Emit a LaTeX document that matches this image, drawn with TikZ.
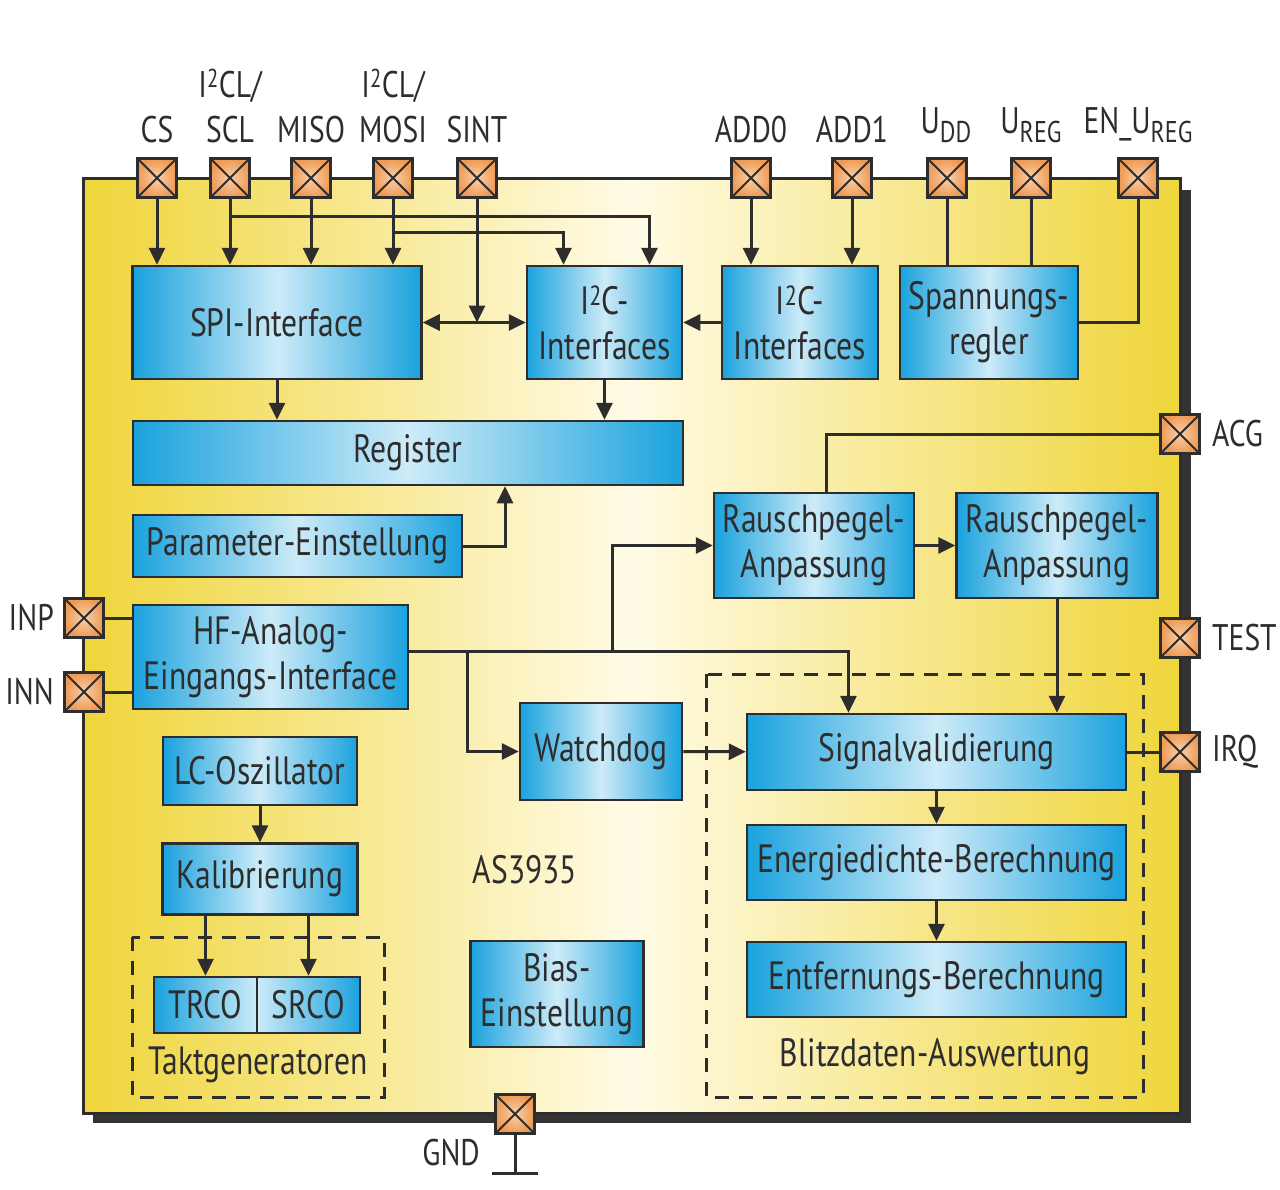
\documentclass[tikz,border=0pt]{standalone}
\usepackage{fontspec}
\setmainfont[FakeStretch=0.8]{PT Sans}
\usetikzlibrary{arrows.meta}
\definecolor{lineC}{HTML}{2D2D2D}
\definecolor{chipY}{HTML}{EFD53A}
\definecolor{chipL}{HTML}{FFFBE6}
\definecolor{boxB}{HTML}{1AA2DD}
\definecolor{boxL}{HTML}{CDEBF8}
\definecolor{padD}{HTML}{EE9A55}
\definecolor{padL}{HTML}{F9D0AA}
\definecolor{shadowC}{HTML}{333333}
\newcommand{\blkfont}{\fontsize{39.5}{45}\selectfont}
\newcommand{\pinfont}{\fontsize{37}{40}\selectfont}
\newcommand{\pinsub}[1]{\raisebox{-9pt}{\fontsize{30}{32}\selectfont #1}}

\tikzset{
  blk/.style={draw=lineC, line width=2.5pt, left color=boxB, right color=boxB, middle color=boxL,
    align=center, inner sep=0pt, text=lineC, font=\blkfont},
  sz/.style 2 args={minimum width=#1pt, minimum height=#2pt},
  pad/.style={draw=lineC, line width=2.5pt, inner color=padL, outer color=padD, minimum size=39pt, inner sep=0pt,
    path picture={\draw[lineC, line width=2pt] (path picture bounding box.north west) -- (path picture bounding box.south east)
      (path picture bounding box.north east) -- (path picture bounding box.south west);}},
  pinlbl/.style={text=lineC, font=\pinfont, inner sep=0pt},
  wire/.style={draw=lineC, line width=3pt},
  arr/.style={wire, -{Triangle[length=17pt, width=16pt]}},
  arrr/.style={wire, {Triangle[length=17pt, width=16pt]}-{Triangle[length=17pt, width=16pt]}},
  grp/.style={draw=lineC, line width=3pt, dash pattern=on 14pt off 10pt},
}

\begin{document}
\begin{tikzpicture}[x=1pt, y=-1pt]
		%%%%% START %%%%%
		\useasboundingbox (0,0) rectangle (1280,1189);
		
		\fill[shadowC] (93,190) rectangle (1191,1123);
		\draw[lineC, line width=3pt, left color=chipY, right color=chipY, middle color=chipL] (83,178) rectangle (1180,1113);
		
		\draw[grp] (132,937) rectangle (384,1097);
		\draw[grp] (706,674) rectangle (1143,1097);
		
		%%%%% BLOCKS %%%%%
		\node[blk, sz={289}{113}] (spi) at (277,322.5) {SPI-Interface};
		\node[blk, sz={155}{113}] (ica) at (604.5,322.5) {I\textsuperscript{2}C-\\Interfaces};
		\node[blk, sz={156}{113}] (icb) at (800,322.5) {I\textsuperscript{2}C-\\Interfaces};
		\node[blk, sz={178}{113}] (sreg) at (989,322.5) {Spannungs-\\regler};
		\node[blk, sz={550}{64}] (regi) at (408,453) {Register};
		\node[blk, sz={329}{62}] (par) at (297.5,546) {Parameter-Einstellung};
		\node[blk, sz={200}{105}] (rp1) at (814,545.5) {Rauschpegel-\\Anpassung};
		\node[blk, sz={201}{105}] (rp2) at (1057,545.5) {Rauschpegel-\\Anpassung};
		\node[blk, sz={275}{104}] (hf) at (270.5,657) {HF-Analog-\\Eingangs-Interface};
		\node[blk, sz={162}{97}] (wd) at (601,751.5) {Watchdog};
		\node[blk, sz={379}{76}] (sv) at (936.5,752) {Signalvalidierung};
		\node[blk, sz={194}{68}] (lc) at (260,771) {LC-Oszillator};
		\node[blk, sz={195}{71}] (kal) at (260,879) {Kalibrierung};
		\node[blk, sz={103}{56}, left color=boxB, right color=boxL] (trco) at (205.5,1005) {TRCO};
		\node[blk, sz={103}{56}, left color=boxL, right color=boxB] (srco) at (308.5,1005) {SRCO};
		\node[blk, sz={379}{75}] (en) at (936.5,862.5) {Energiedichte-Berechnung};
		\node[blk, sz={379}{75}] (ent) at (936.5,979.5) {Entfernungs-Berechnung};
		\node[blk, sz={173}{106}] (bias) at (557,994) {Bias-\\Einstellung};
		
		\node[pinlbl, font=\blkfont] (chipname) at (525,870) {AS3935};
		\node[pinlbl, font=\blkfont] (ltakt) at (258,1065) {Taktgeneratoren};
		\node[pinlbl, font=\blkfont] (lblitz) at (935,1057) {Blitzdaten-Auswertung};
		
		%%%%% PADS %%%%%
		\node[pad] (pcs) at (157,178) {};
		\node[pad] (pscl) at (230,178) {};
		\node[pad] (pmiso) at (311,178) {};
		\node[pad] (pmosi) at (393,178) {};
		\node[pad] (psint) at (477,178) {};
		\node[pad] (padd0) at (751,178) {};
		\node[pad] (padd1) at (852,178) {};
		\node[pad] (pudd) at (947,178) {};
		\node[pad] (pureg) at (1031,178) {};
		\node[pad] (pen) at (1138,178) {};
		\node[pad] (pacg) at (1180,434) {};
		\node[pad] (ptest) at (1180,638) {};
		\node[pad] (pirq) at (1180,752) {};
		\node[pad] (pinp) at (84,618) {};
		\node[pad] (pinn) at (84,692) {};
		\node[pad] (pgnd) at (515,1114) {};
		
		\node[pinlbl, anchor=base] (lcs) at (157,142) {CS};
		\node[pinlbl, anchor=base] (lsclA) at (230,97) {I\textsuperscript{2}CL/};
		\node[pinlbl, anchor=base] (lscl) at (230,142) {SCL};
		\node[pinlbl, anchor=base] (lmiso) at (311,142) {MISO};
		\node[pinlbl, anchor=base] (lmosiA) at (393,97) {I\textsuperscript{2}CL/};
		\node[pinlbl, anchor=base] (lmosi) at (393,142) {MOSI};
		\node[pinlbl, anchor=base] (lsint) at (477,142) {SINT};
		\node[pinlbl, anchor=base] (ladd0) at (751,142) {ADD0};
		\node[pinlbl, anchor=base] (ladd1) at (852,142) {ADD1};
		\node[pinlbl, anchor=base] (ludd) at (946,133) {U\pinsub{DD}};
		\node[pinlbl, anchor=base] (lureg) at (1031,133) {U\pinsub{REG}};
		\node[pinlbl, anchor=base] (len) at (1138,133) {EN\_U\pinsub{REG}};
		\node[pinlbl, anchor=west] (lacg) at (1212,434) {ACG};
		\node[pinlbl, anchor=west] (ltest) at (1212,638) {TEST};
		\node[pinlbl, anchor=west] (lirq) at (1212,752) {IRQ};
		\node[pinlbl, anchor=east] (linp) at (54,618) {INP};
		\node[pinlbl, anchor=east] (linn) at (54,692) {INN};
		\node[pinlbl, anchor=east] (lgnd) at (480,1153) {GND};
		
		%%%%% WIRES %%%%%
		\coordinate (jscl) at (230,216);
		\coordinate (jmosi) at (393,232);
		\coordinate (hfo) at ([yshift=6pt]hf.east);
		\coordinate (jrp) at (612,651);
		\coordinate (jwd) at (467,651);
		\coordinate (gnd) at (515,1173);
		
		\draw[arr] (pcs) -- (pcs |- spi.north);
		\draw[arr] (pscl) -- (pscl |- spi.north);
		\draw[arr] (pmiso) -- (pmiso |- spi.north);
		\draw[arr] (pmosi) -- (pmosi |- spi.north);
		\draw[arr] (jscl) -| ([xshift=45pt]ica.north);
		\draw[arr] (jmosi) -| ([xshift=-41pt]ica.north);
		\draw[arr] (psint) -- (psint |- spi.east);
		\draw[arrr] (spi) -- (ica);
		\draw[arr] (icb) -- (ica);
		\draw[arr] (padd0) -- (padd0 |- icb.north);
		\draw[arr] (padd1) -- (padd1 |- icb.north);
		\draw[wire] (pudd) -- (pudd |- sreg.north);
		\draw[wire] (pureg) -- (pureg |- sreg.north);
		\draw[wire] (pen) |- (sreg);
		
		\draw[arr] (spi) -- (spi |- regi.north);
		\draw[arr] (ica) -- (ica |- regi.north);
		\draw[arr] (par) -| ([xshift=97pt]regi.south);
		
		\draw[wire] (pacg) -| ([xshift=12pt]rp1.north);
		\draw[arr] (rp1) -- (rp2);
		\draw[arr] (rp2) -- (rp2 |- sv.north);
		
		\draw[wire] (pinp) -- (pinp -| hf.west);
		\draw[wire] (pinn) -- (pinn -| hf.west);
		\draw[arr] (hfo) -| ([xshift=-88pt]sv.north);
		\draw[arr] (jrp) |- (rp1);
		\draw[arr] (jwd) |- (wd);
		\draw[arr] (wd) -- (sv);
		\draw[wire] (sv) -- (pirq);
		\draw[arr] (sv) -- (en);
		\draw[arr] (en) -- (ent);
		
		\draw[arr] (lc) -- (kal);
		\draw[arr] (trco |- kal.south) -- (trco);
		\draw[arr] (srco |- kal.south) -- (srco);
		
		\draw[wire] (pgnd) -- (gnd);
		\draw[wire] ([xshift=-23pt]gnd) -- ([xshift=23pt]gnd);
		%%%%% END %%%%%
\end{tikzpicture}
\end{document}
